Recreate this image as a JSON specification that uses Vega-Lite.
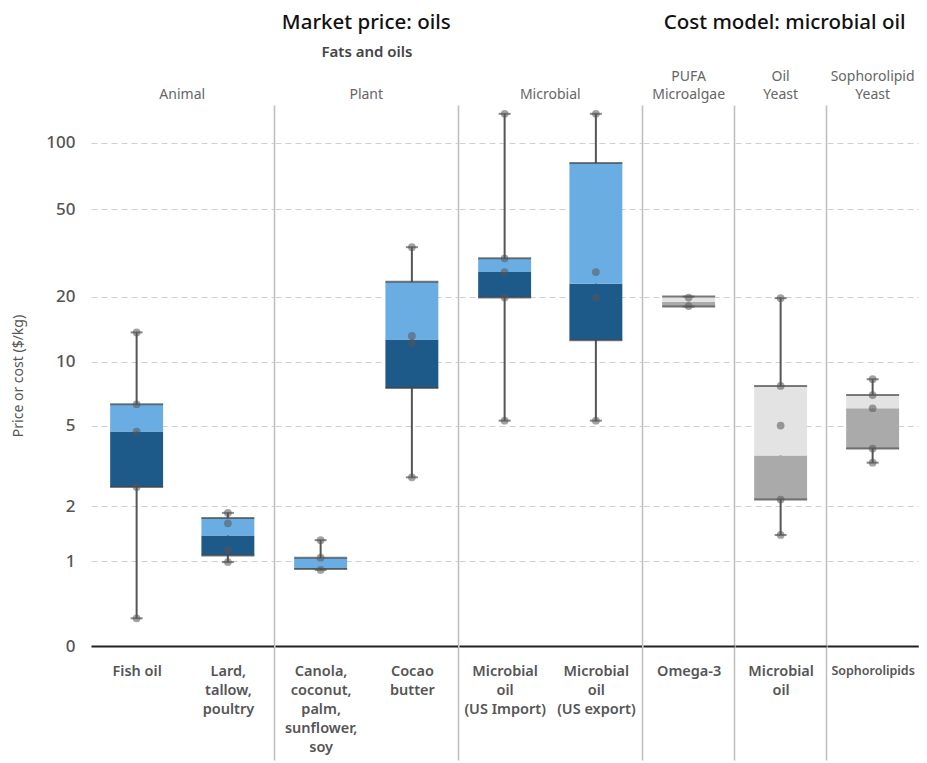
{
  "$schema": "https://vega.github.io/schema/vega-lite/v6.json",
  "padding": {"left": 11, "top": 12, "right": 0, "bottom": 0},
  "datasets": {
    "oils": [
      {"kind": "market", "group": "Animal", "cat": "Fish oil", "type": "box", "min": 0.42, "q1": 2.51, "median": 4.7, "q3": 6.34, "max": 13.7},
      {"kind": "market", "group": "Animal", "cat": "Lard,\ntallow,\npoultry", "type": "box", "min": 0.99, "q1": 1.08, "median": 1.4, "q3": 1.74, "max": 1.85},
      {"kind": "market", "group": "Plant", "cat": "Canola,\ncoconut,\npalm,\nsunflower,\nsoy", "type": "box", "min": 0.89, "q1": 0.9, "median": 0.91, "q3": 1.05, "max": 1.32},
      {"kind": "market", "group": "Plant", "cat": "Cocao\nbutter", "type": "box", "min": 2.81, "q1": 7.55, "median": 12.7, "q3": 23.4, "max": 33.6},
      {"kind": "market", "group": "Microbial", "cat": "Microbial\noil\n(US Import)", "type": "box", "min": 5.3, "q1": 19.8, "median": 25.9, "q3": 29.9, "max": 135},
      {"kind": "market", "group": "Microbial", "cat": "Microbial\noil\n(US export)", "type": "box", "min": 5.3, "q1": 12.6, "median": 22.9, "q3": 81, "max": 135},
      {"kind": "cost", "group": "PUFA\nMicroalgae", "cat": "Omega-3", "type": "box", "min": 18.0, "q1": 18.0, "median": 18.95, "q3": 20.0, "max": 20.0},
      {"kind": "cost", "group": "Oil\nYeast", "cat": "Microbial\noil", "type": "box", "min": 1.41, "q1": 2.17, "median": 3.6, "q3": 7.73, "max": 19.67},
      {"kind": "cost", "group": "Sophorolipid\nYeast", "cat": "Sophorolipids", "type": "box", "min": 3.32, "q1": 3.89, "median": 6.07, "q3": 7.0, "max": 8.31},
      {"kind": "market", "group": "Animal", "cat": "Fish oil", "type": "point", "value": 13.7},
      {"kind": "market", "group": "Animal", "cat": "Fish oil", "type": "point", "value": 6.34},
      {"kind": "market", "group": "Animal", "cat": "Fish oil", "type": "point", "value": 4.7},
      {"kind": "market", "group": "Animal", "cat": "Fish oil", "type": "point", "value": 2.51},
      {"kind": "market", "group": "Animal", "cat": "Fish oil", "type": "point", "value": 0.42},
      {"kind": "market", "group": "Animal", "cat": "Lard,\ntallow,\npoultry", "type": "point", "value": 1.85},
      {"kind": "market", "group": "Animal", "cat": "Lard,\ntallow,\npoultry", "type": "point", "value": 1.63},
      {"kind": "market", "group": "Animal", "cat": "Lard,\ntallow,\npoultry", "type": "point", "value": 1.16},
      {"kind": "market", "group": "Animal", "cat": "Lard,\ntallow,\npoultry", "type": "point", "value": 0.99},
      {"kind": "market", "group": "Plant", "cat": "Canola,\ncoconut,\npalm,\nsunflower,\nsoy", "type": "point", "value": 1.32},
      {"kind": "market", "group": "Plant", "cat": "Canola,\ncoconut,\npalm,\nsunflower,\nsoy", "type": "point", "value": 1.05},
      {"kind": "market", "group": "Plant", "cat": "Canola,\ncoconut,\npalm,\nsunflower,\nsoy", "type": "point", "value": 0.89},
      {"kind": "market", "group": "Plant", "cat": "Cocao\nbutter", "type": "point", "value": 33.6},
      {"kind": "market", "group": "Plant", "cat": "Cocao\nbutter", "type": "point", "value": 13.2},
      {"kind": "market", "group": "Plant", "cat": "Cocao\nbutter", "type": "point", "value": 12.2},
      {"kind": "market", "group": "Plant", "cat": "Cocao\nbutter", "type": "point", "value": 2.81},
      {"kind": "market", "group": "Microbial", "cat": "Microbial\noil\n(US Import)", "type": "point", "value": 135},
      {"kind": "market", "group": "Microbial", "cat": "Microbial\noil\n(US Import)", "type": "point", "value": 29.9},
      {"kind": "market", "group": "Microbial", "cat": "Microbial\noil\n(US Import)", "type": "point", "value": 25.9},
      {"kind": "market", "group": "Microbial", "cat": "Microbial\noil\n(US Import)", "type": "point", "value": 19.8},
      {"kind": "market", "group": "Microbial", "cat": "Microbial\noil\n(US Import)", "type": "point", "value": 5.3},
      {"kind": "market", "group": "Microbial", "cat": "Microbial\noil\n(US export)", "type": "point", "value": 135},
      {"kind": "market", "group": "Microbial", "cat": "Microbial\noil\n(US export)", "type": "point", "value": 25.9},
      {"kind": "market", "group": "Microbial", "cat": "Microbial\noil\n(US export)", "type": "point", "value": 19.8},
      {"kind": "market", "group": "Microbial", "cat": "Microbial\noil\n(US export)", "type": "point", "value": 5.3},
      {"kind": "cost", "group": "PUFA\nMicroalgae", "cat": "Omega-3", "type": "point", "value": 19.8},
      {"kind": "cost", "group": "PUFA\nMicroalgae", "cat": "Omega-3", "type": "point", "value": 18.1},
      {"kind": "cost", "group": "Oil\nYeast", "cat": "Microbial\noil", "type": "point", "value": 19.67},
      {"kind": "cost", "group": "Oil\nYeast", "cat": "Microbial\noil", "type": "point", "value": 7.73},
      {"kind": "cost", "group": "Oil\nYeast", "cat": "Microbial\noil", "type": "point", "value": 5.02},
      {"kind": "cost", "group": "Oil\nYeast", "cat": "Microbial\noil", "type": "point", "value": 2.17},
      {"kind": "cost", "group": "Oil\nYeast", "cat": "Microbial\noil", "type": "point", "value": 1.41},
      {"kind": "cost", "group": "Sophorolipid\nYeast", "cat": "Sophorolipids", "type": "point", "value": 8.31},
      {"kind": "cost", "group": "Sophorolipid\nYeast", "cat": "Sophorolipids", "type": "point", "value": 7.0},
      {"kind": "cost", "group": "Sophorolipid\nYeast", "cat": "Sophorolipids", "type": "point", "value": 6.07},
      {"kind": "cost", "group": "Sophorolipid\nYeast", "cat": "Sophorolipids", "type": "point", "value": 3.89},
      {"kind": "cost", "group": "Sophorolipid\nYeast", "cat": "Sophorolipids", "type": "point", "value": 3.32}
    ]
  },
  "spacing": 0,
  "hconcat": [
    {
      "data": {"name": "oils"},
      "transform": [{"filter": "datum.kind === 'market'"}],
      "title": {"text": "Market price: oils", "fontSize": 20.5, "fontWeight": 500, "color": "#111", "offset": 12, "anchor": "middle", "dx": 39},
      "facet": {
        "column": {
          "field": "group", "type": "nominal", "sort": ["Animal", "Plant", "Microbial"],
          "header": {"title": "Fats and oils", "titleFontSize": 15, "titleFontWeight": 600, "titleColor": "#444", "titlePadding": 0,
                     "labelFontSize": 14, "labelColor": "#666", "labelExpr": "[' ', datum.label]", "labelPadding": 3, "labelLineHeight": 18}
        }
      },
      "spacing": 0,
      "resolve": {"scale": {"x": "independent"}},
      "spec": {
        "width": {"step": 91.25},
        "height": 541,
        "encoding": {
          "x": {
            "field": "cat", "type": "nominal",
            "sort": ["Fish oil", "Lard,\ntallow,\npoultry", "Canola,\ncoconut,\npalm,\nsunflower,\nsoy", "Cocao\nbutter", "Microbial\noil\n(US Import)", "Microbial\noil\n(US export)"],
            "scale": {"paddingInner": 0, "paddingOuter": 0},
            "axis": {
              "title": null, "labelExpr": "split(datum.label, '\\n')", "labelAngle": 0, "labelFontSize": 14.5, "labelFontWeight": 600,
              "labelColor": "#555", "labelLineHeight": 19, "labelPadding": -96, "labelBaseline": "top", "labelLimit": 200,
              "tickBand": "extent", "tickSize": 114, "tickColor": "#bdbdbd", "tickWidth": 1.5,
              "tickOpacity": {"condition": {"test": "indexof(['Lard,\\ntallow,\\npoultry', 'Cocao\\nbutter', 'Microbial\\noil\\n(US export)'], datum.value) >= 0", "value": 1}, "value": 0},
              "grid": true, "gridColor": "#bdbdbd", "gridWidth": 1.5,
              "gridOpacity": {"condition": {"test": "indexof(['Lard,\\ntallow,\\npoultry', 'Cocao\\nbutter', 'Microbial\\noil\\n(US export)'], datum.value) >= 0", "value": 1}, "value": 0},
              "domainColor": "#222", "domainWidth": 2
            }
          }
        },
        "layer": [
          {
            "transform": [{"filter": "datum.type === 'box'"}],
            "mark": {"type": "rule", "color": "#555", "strokeWidth": 2},
            "encoding": {
              "y": {"field": "min", "type": "quantitative", "title": "Price or cost ($/kg)",
                    "scale": {"type": "symlog", "constant": 0.3, "domain": [0.24, 148], "nice": false, "zero": false},
                    "axis": {"values": [0.24, 1, 2, 5, 10, 20, 50, 100], "labelExpr": "datum.value < 0.5 ? '0' : format(datum.value, 'd')",
                             "grid": true, "gridDash": [6, 4], "gridColor": "#cfcfcf", "domain": false, "ticks": false,
                             "labelFontSize": 17, "labelFontWeight": 500, "labelColor": "#555", "labelPadding": 16,
                             "titleFontSize": 14, "titleFontWeight": "normal", "titleColor": "#555", "titlePadding": 20}},
              "y2": {"field": "max"}
            }
          },
          {
            "transform": [{"filter": "datum.type === 'box'"}],
            "mark": {"type": "bar", "color": "#1d5a8a", "width": {"band": 0.58}},
            "encoding": {"y": {"field": "q1", "type": "quantitative", "title": "Price or cost ($/kg)"}, "y2": {"field": "median"}}
          },
          {
            "transform": [{"filter": "datum.type === 'box'"}],
            "mark": {"type": "bar", "color": "#6aade2", "width": {"band": 0.58}},
            "encoding": {"y": {"field": "median", "type": "quantitative", "title": "Price or cost ($/kg)"}, "y2": {"field": "q3"}}
          },
          {
            "transform": [{"filter": "datum.type === 'box'"}],
            "mark": {"type": "tick", "color": "#444", "thickness": 2, "size": 53},
            "encoding": {"y": {"field": "q1", "type": "quantitative", "title": "Price or cost ($/kg)"}}
          },
          {
            "transform": [{"filter": "datum.type === 'box'"}],
            "mark": {"type": "tick", "color": "#444", "thickness": 2, "size": 53},
            "encoding": {"y": {"field": "q3", "type": "quantitative", "title": "Price or cost ($/kg)"}}
          },
          {
            "transform": [{"filter": "datum.type === 'box'"}],
            "mark": {"type": "tick", "color": "#555", "thickness": 2, "size": 12},
            "encoding": {"y": {"field": "min", "type": "quantitative", "title": "Price or cost ($/kg)"}}
          },
          {
            "transform": [{"filter": "datum.type === 'box'"}],
            "mark": {"type": "tick", "color": "#555", "thickness": 2, "size": 12},
            "encoding": {"y": {"field": "max", "type": "quantitative", "title": "Price or cost ($/kg)"}}
          },
          {
            "transform": [{"filter": "datum.type === 'point'"}],
            "mark": {"type": "point", "filled": true, "size": 60, "color": "#555", "opacity": 0.55},
            "encoding": {"y": {"field": "value", "type": "quantitative", "title": "Price or cost ($/kg)"}}
          }
        ]
      }
    },
    {
      "data": {"name": "oils"},
      "transform": [{"filter": "datum.kind === 'cost'"}],
      "title": {"text": "Cost model: microbial oil", "fontSize": 20.5, "fontWeight": 500, "color": "#111", "offset": 12, "anchor": "middle", "dx": 4},
      "facet": {
        "column": {
          "field": "group", "type": "nominal", "sort": ["PUFA\nMicroalgae", "Oil\nYeast", "Sophorolipid\nYeast"],
          "header": {"title": " ", "titleFontSize": 15, "titleFontWeight": 600, "titleColor": "#444", "titlePadding": 0,
                     "labelFontSize": 14, "labelColor": "#666", "labelExpr": "split(datum.label, '\\n')", "labelPadding": 3, "labelLineHeight": 18}
        }
      },
      "spacing": 0,
      "resolve": {"scale": {"x": "independent"}},
      "spec": {
        "width": {"step": 91.25},
        "height": 541,
        "encoding": {
          "x": {
            "field": "cat", "type": "nominal",
            "sort": ["Omega-3", "Microbial\noil", "Sophorolipids"],
            "scale": {"paddingInner": 0, "paddingOuter": 0},
            "axis": {
              "title": null, "labelExpr": "split(datum.label, '\\n')", "labelAngle": 0,
              "labelFontSize": {"condition": {"test": "datum.value === 'Sophorolipids'", "value": 12.5}, "value": 14.5},
              "labelFontWeight": 600, "labelColor": "#555", "labelLineHeight": 19, "labelPadding": -96, "labelBaseline": "top", "labelLimit": 200,
              "tickBand": "extent", "tickSize": 114, "tickColor": "#bdbdbd", "tickWidth": 1.5,
              "tickOpacity": {"condition": {"test": "indexof(['Omega-3', 'Microbial\\noil'], datum.value) >= 0", "value": 1}, "value": 0},
              "grid": true, "gridColor": "#bdbdbd", "gridWidth": 1.5,
              "gridOpacity": {"condition": {"test": "indexof(['Omega-3', 'Microbial\\noil'], datum.value) >= 0", "value": 1}, "value": 0},
              "domainColor": "#222", "domainWidth": 2
            }
          }
        },
        "layer": [
          {
            "transform": [{"filter": "datum.type === 'box'"}],
            "mark": {"type": "rule", "color": "#555", "strokeWidth": 2},
            "encoding": {
              "y": {"field": "min", "type": "quantitative", "title": null,
                    "scale": {"type": "symlog", "constant": 0.3, "domain": [0.24, 148], "nice": false, "zero": false},
                    "axis": {"values": [1, 2, 5, 10, 20, 50, 100], "labels": false, "grid": true, "gridDash": [6, 4], "gridColor": "#cfcfcf",
                             "domain": false, "ticks": false, "title": null}},
              "y2": {"field": "max"}
            }
          },
          {
            "transform": [{"filter": "datum.type === 'box'"}],
            "mark": {"type": "bar", "color": "#aaaaaa", "width": {"band": 0.58}},
            "encoding": {"y": {"field": "q1", "type": "quantitative", "title": null}, "y2": {"field": "median"}}
          },
          {
            "transform": [{"filter": "datum.type === 'box'"}],
            "mark": {"type": "bar", "color": "#e3e3e3", "width": {"band": 0.58}},
            "encoding": {"y": {"field": "median", "type": "quantitative", "title": null}, "y2": {"field": "q3"}}
          },
          {
            "transform": [{"filter": "datum.type === 'box'"}],
            "mark": {"type": "tick", "color": "#444", "thickness": 2, "size": 53},
            "encoding": {"y": {"field": "q1", "type": "quantitative", "title": null}}
          },
          {
            "transform": [{"filter": "datum.type === 'box'"}],
            "mark": {"type": "tick", "color": "#444", "thickness": 2, "size": 53},
            "encoding": {"y": {"field": "q3", "type": "quantitative", "title": null}}
          },
          {
            "transform": [{"filter": "datum.type === 'box'"}],
            "mark": {"type": "tick", "color": "#555", "thickness": 2, "size": 12},
            "encoding": {"y": {"field": "min", "type": "quantitative", "title": null}}
          },
          {
            "transform": [{"filter": "datum.type === 'box'"}],
            "mark": {"type": "tick", "color": "#555", "thickness": 2, "size": 12},
            "encoding": {"y": {"field": "max", "type": "quantitative", "title": null}}
          },
          {
            "transform": [{"filter": "datum.type === 'point'"}],
            "mark": {"type": "point", "filled": true, "size": 60, "color": "#555", "opacity": 0.55},
            "encoding": {"y": {"field": "value", "type": "quantitative", "title": null}}
          }
        ]
      }
    }
  ],
  "config": {
    "font": "Noto Sans",
    "view": {"stroke": null},
    "facet": {"spacing": 0},
    "concat": {"spacing": 0}
  }
}
